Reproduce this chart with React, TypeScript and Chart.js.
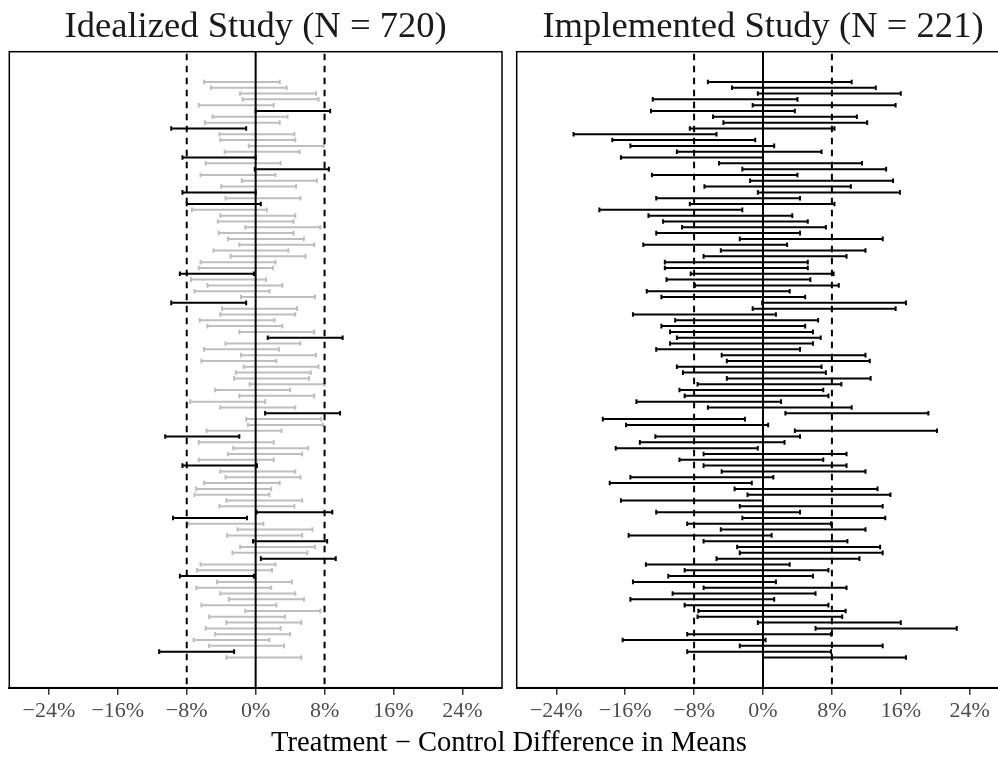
import React, { useEffect, useRef } from "react";
import { Chart, registerables } from "chart.js";

Chart.register(...registerables);

// ---------- data ----------
const panelTitles = ["Idealized Study (N = 720)", "Implemented Study (N = 221)"];
const axisTitle = "Treatment \u2212 Control Difference in Means";
const xTicks = [-24, -16, -8, 0, 8, 16, 24];
const refSolid = [0];
const refDashed = [-8, 8];

// Idealized study: lower / upper bounds (%), and whether the interval is highlighted (black)
const idealLo = [
  -6.0, -5.2, -1.8, -1.5, -6.6, 0.0, -5.0, -5.9, -9.8, -4.2,
  -4.1, -0.8, -3.6, -8.5, -5.8, -0.1, -6.4, -1.6, -4.0, -8.5,
  -3.5, -8.0, -7.4, -4.1, -4.4, -1.2, -4.3, -3.2, -1.9, -4.9,
  -2.9, -6.4, -6.6, -8.8, -7.5, -5.6, -7.1, -1.7, -9.8, -3.9,
  -4.1, -6.5, -5.6, -1.9, 1.4, -3.5, -6.0, -1.7, -6.3, -1.4,
  -2.3, -2.5, -0.7, -4.7, -1.9, -7.6, -4.1, 1.1, -1.1, -0.9,
  -5.7, -10.5, -6.6, -2.6, -3.2, -6.6, -8.5, -4.1, -3.5, -6.0,
  -6.9, -7.1, -3.4, -4.2, 0.1, -9.6, -7.8, -2.1, -3.3, -0.3,
  -1.8, -2.7, 0.6, -6.4, -6.8, -8.8, -4.5, -6.9, -4.1, -3.1,
  -6.3, -1.2, -5.4, -3.4, -5.8, -4.7, -7.2, -5.4, -11.2, -3.4,
];
const idealHi = [
  2.8, 3.6, 7.0, 7.3, 2.1, 8.65, 3.7, 2.8, -1.1, 4.5,
  4.6, 7.9, 5.1, 0.0, 2.9, 8.5, 2.3, 7.1, 4.7, 0.0,
  5.2, 0.6, 1.3, 4.6, 4.4, 7.5, 4.4, 5.6, 6.8, 3.8,
  5.8, 2.3, 2.0, -0.2, 1.2, 3.1, 1.6, 6.9, -1.1, 4.8,
  4.6, 2.2, 3.1, 6.8, 10.1, 5.2, 2.7, 7.0, 2.4, 7.3,
  6.4, 6.2, 8.0, 4.0, 6.8, 1.1, 4.6, 9.8, 7.6, 7.8,
  3.0, -1.9, 2.1, 6.1, 5.4, 2.1, 0.15, 4.6, 5.2, 2.8,
  1.8, 1.6, 5.4, 4.5, 8.9, -1.0, 0.9, 6.6, 5.4, 8.3,
  6.9, 6.0, 9.3, 2.3, 1.9, -0.2, 4.2, 1.8, 4.6, 5.6,
  2.4, 7.5, 3.4, 5.3, 2.9, 4.0, 1.6, 3.3, -2.5, 5.3,
];
const idealBlack = [
  0, 0, 0, 0, 0, 1, 0, 0, 1, 0,
  0, 0, 0, 1, 0, 1, 0, 0, 0, 1,
  0, 1, 0, 0, 0, 0, 0, 0, 0, 0,
  0, 0, 0, 1, 0, 0, 0, 0, 1, 0,
  0, 0, 0, 0, 1, 0, 0, 0, 0, 0,
  0, 0, 0, 0, 0, 0, 0, 1, 0, 0,
  0, 1, 0, 0, 0, 0, 1, 0, 0, 0,
  0, 0, 0, 0, 1, 1, 0, 0, 0, 1,
  0, 0, 1, 0, 0, 1, 0, 0, 0, 0,
  0, 0, 0, 0, 0, 0, 0, 0, 1, 0,
];

// Implemented study: lower / upper bounds (%)
const implLo = [
  -6.4, -3.6, -0.6, -12.8, -1.2, -13.0, -5.8, -4.6, -8.5, -22.0,
  -17.5, -15.4, -10.0, -16.5, -5.1, -2.4, -12.9, -1.5, -6.8, -0.6,
  -12.4, -8.5, -19.0, -13.3, -11.6, -9.4, -12.4, -2.7, -13.9, -4.9,
  -6.9, -11.4, -11.4, -8.4, -11.2, -7.9, -13.5, -11.8, -0.1, -1.2,
  -15.1, -10.2, -11.8, -10.8, -10.0, -10.8, -12.4, -4.8, -4.2, -10.0,
  -9.3, -4.2, -7.6, -9.7, -9.1, -14.7, -6.4, 2.6, -18.6, -15.9,
  3.7, -12.5, -14.3, -17.1, -6.9, -9.7, -6.9, -4.8, -15.4, -17.8,
  -3.3, -1.8, -16.5, -2.7, -12.4, -2.4, -8.8, -4.9, -15.6, -6.9,
  -3.0, -2.7, -5.4, -13.6, -9.1, -11.0, -15.1, -6.9, -10.5, -15.4,
  -9.1, -7.5, -7.6, -0.6, 6.1, -8.8, -16.3, -2.7, -8.8, 0.0,
];
const implHi = [
  10.3, 13.1, 16.0, 4.0, 15.4, 3.7, 10.9, 12.1, 8.3, -5.4,
  -0.9, 1.3, 6.8, 0.0, 11.5, 14.3, 4.0, 15.1, 10.2, 15.9,
  4.3, 8.3, -2.4, 3.4, 5.2, 7.3, 4.3, 13.9, 2.8, 11.9,
  9.7, 5.2, 5.2, 8.2, 5.5, 8.8, 3.1, 4.9, 16.6, 15.4,
  1.5, 6.4, 4.9, 5.8, 6.7, 5.8, 4.3, 11.9, 12.4, 6.8,
  7.3, 12.5, 9.1, 7.0, 7.6, 2.1, 10.3, 19.2, -2.1, 0.6,
  20.2, 4.3, 2.5, -0.6, 9.7, 7.0, 9.7, 11.9, 1.2, -1.3,
  13.3, 14.8, 0.0, 13.9, 4.3, 14.2, 7.9, 11.9, 1.0, 9.8,
  13.6, 13.9, 11.2, 3.1, 7.6, 5.8, 1.5, 9.7, 6.1, 1.3,
  7.6, 9.6, 9.2, 16.0, 22.5, 7.9, 0.3, 13.9, 7.9, 16.6,
];

// ---------- styling / layout ----------
const FONT = "'Liberation Serif', 'Times New Roman', serif";
const GRAY = "#bebebe";
const BLACK = "#000000";
const X_MIN = -28.6;
const X_MAX = 28.6;
const Y_MIN = -4.2;
const Y_MAX = 105.2;
const CANVAS_H = 759;
const AREA_TOP = 51.7;
const AREA_BOTTOM = 687.7;

type Pt = { x: number; y: number };

function segments(lo: number[], hi: number[], keep: (i: number) => boolean): Pt[] {
  const out: Pt[] = [];
  for (let i = 0; i < lo.length; i++) {
    if (!keep(i)) continue;
    out.push({ x: lo[i], y: i + 1 });
    out.push({ x: hi[i], y: i + 1 });
    out.push({ x: NaN, y: NaN });
  }
  return out;
}

function intervalDataset(data: Pt[], color: string) {
  return {
    type: "line" as const,
    data,
    borderColor: color,
    backgroundColor: color,
    borderWidth: 2,
    pointStyle: "line" as const,
    pointRotation: 90,
    pointRadius: 2.3,
    pointHoverRadius: 2.3,
    pointBorderWidth: 2,
    pointBorderColor: color,
    spanGaps: false,
    tension: 0,
    fill: false,
  };
}

const panelDecor = {
  id: "panelDecor",
  afterDatasetsDraw(chart: any) {
    const { ctx, chartArea } = chart;
    const xs = chart.scales.x;
    ctx.save();
    ctx.strokeStyle = "#000";
    ctx.lineWidth = 2;
    ctx.setLineDash([]);
    refSolid.forEach((v) => {
      const px = xs.getPixelForValue(v);
      ctx.beginPath();
      ctx.moveTo(px, chartArea.top);
      ctx.lineTo(px, chartArea.bottom);
      ctx.stroke();
    });
    ctx.setLineDash([6.5, 5.5]);
    refDashed.forEach((v) => {
      const px = xs.getPixelForValue(v);
      ctx.beginPath();
      ctx.moveTo(px, chartArea.top + 2);
      ctx.lineTo(px, chartArea.bottom);
      ctx.stroke();
    });
    ctx.setLineDash([]);
    ctx.lineWidth = 1.5;
    ctx.strokeRect(
      chartArea.left,
      chartArea.top,
      chartArea.right - chartArea.left,
      chartArea.bottom - chartArea.top
    );
    ctx.restore();
  },
};

function makeConfig(datasets: any[], padLeft: number, padRight: number) {
  return {
    type: "line" as const,
    data: { datasets },
    plugins: [panelDecor],
    options: {
      animation: false as const,
      responsive: false,
      devicePixelRatio: 1,
      layout: { padding: { left: padLeft, right: padRight, top: AREA_TOP, bottom: 0 } },
      plugins: {
        legend: { display: false },
        tooltip: { enabled: false },
        title: { display: false },
      },
      events: [],
      scales: {
        x: {
          type: "linear" as const,
          min: X_MIN,
          max: X_MAX,
          afterBuildTicks: (s: any) => {
            s.ticks = xTicks.map((v) => ({ value: v }));
          },
          afterFit: (s: any) => {
            s.height = CANVAS_H - AREA_BOTTOM;
          },
          ticks: {
            autoSkip: false,
            maxRotation: 0,
            padding: 3,
            color: "#4d4d4d",
            font: { family: FONT, size: 22 },
            callback: (v: any) => (v < 0 ? "\u2212" + Math.abs(v) : String(v)) + "%",
          },
          grid: {
            drawOnChartArea: false,
            drawTicks: true,
            tickLength: 7,
            color: "#333333",
            lineWidth: 1.5,
          },
          border: { display: true, color: "#000", width: 2 },
        },
        y: {
          type: "linear" as const,
          display: false,
          reverse: true,
          min: Y_MIN,
          max: Y_MAX,
        },
      },
    },
  };
}

function Panel(props: { left: number; width: number; padLeft: number; padRight: number; datasets: any[] }) {
  const ref = useRef<HTMLCanvasElement | null>(null);
  useEffect(() => {
    if (!ref.current) return;
    const chart = new Chart(ref.current, makeConfig(props.datasets, props.padLeft, props.padRight) as any);
    return () => chart.destroy();
  }, []);
  return (
    <canvas
      ref={ref}
      width={props.width}
      height={CANVAS_H}
      style={{ position: "absolute", left: props.left, top: 0, width: props.width, height: CANVAS_H }}
    />
  );
}

const titleStyle = (center: number): React.CSSProperties => ({
  position: "absolute",
  left: center - 300,
  width: 600,
  top: 7,
  textAlign: "center",
  fontFamily: FONT,
  fontSize: 36.6,
  lineHeight: "36.6px",
  color: "#1a1a1a",
  whiteSpace: "nowrap",
});

export default function App() {
  const leftSets = [
    intervalDataset(segments(idealLo, idealHi, (i) => idealBlack[i] === 1), BLACK),
    intervalDataset(segments(idealLo, idealHi, (i) => idealBlack[i] !== 1), GRAY),
  ];
  const rightSets = [intervalDataset(segments(implLo, implHi, () => true), BLACK)];
  return (
    <div
      style={{
        position: "fixed",
        left: 0,
        top: 0,
        width: 998,
        height: 759,
        overflow: "hidden",
        background: "#fff",
      }}
    >
      <Panel left={0} width={509} padLeft={9.3} padRight={7} datasets={leftSets} />
      <Panel left={509} width={511} padLeft={7.7} padRight={10.7} datasets={rightSets} />
      <div style={titleStyle(255.6)}>{panelTitles[0]}</div>
      <div style={titleStyle(763)}>{panelTitles[1]}</div>
      <div
        style={{
          position: "absolute",
          left: 509 - 400,
          width: 800,
          top: 727.5,
          textAlign: "center",
          fontFamily: FONT,
          fontSize: 28.6,
          lineHeight: "28.6px",
          color: "#000",
          whiteSpace: "nowrap",
        }}
      >
        {axisTitle}
      </div>
    </div>
  );
}
